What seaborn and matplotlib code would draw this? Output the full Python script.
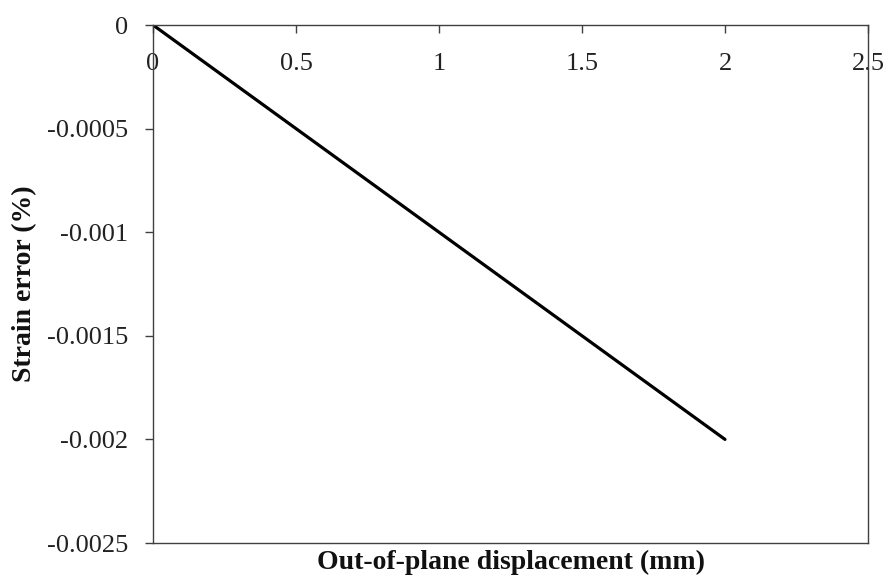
import matplotlib
matplotlib.use("Agg")
import matplotlib.pyplot as plt
import seaborn as sns
import pandas as pd

displacement_mm = [0.0, 0.5, 1.0, 1.5, 2.0]
strain_error_pct = [0.0, -0.0005, -0.001, -0.0015, -0.002]
x_ticks = [0, 0.5, 1, 1.5, 2, 2.5]
x_tick_labels = ["0", "0.5", "1", "1.5", "2", "2.5"]
y_ticks = [0, -0.0005, -0.001, -0.0015, -0.002, -0.0025]
y_tick_labels = ["0", "-0.0005", "-0.001", "-0.0015", "-0.002", "-0.0025"]

df = pd.DataFrame({"x": displacement_mm, "y": strain_error_pct})

sns.set_theme(style="white")
plt.rcParams["font.family"] = ["Liberation Serif", "DejaVu Serif"]

fig = plt.figure(figsize=(8.88, 5.77), dpi=100)
ax = fig.add_axes([153/888, 1 - 543/577, (868-153)/888, (543-25)/577])

sns.lineplot(data=df, x="x", y="y", ax=ax, color="black", linewidth=2.3)

ax.set_xlim(0, 2.5)
ax.set_ylim(-0.0025, 0)
ax.set_xticks(x_ticks)
ax.set_xticklabels(x_tick_labels)
ax.set_yticks(y_ticks)
ax.set_yticklabels(y_tick_labels)

for s in ax.spines.values():
    s.set_color("#404040")
    s.set_linewidth(1.0)
    s.set_visible(True)

ax.tick_params(axis="x", top=True, bottom=False, labeltop=True, labelbottom=False,
               direction="in", length=6, width=1, color="#404040", pad=-36,
               labelsize=19, labelcolor="#222222")
ax.tick_params(axis="y", left=True, direction="out", length=6, width=1,
               color="#404040", pad=12, labelsize=19, labelcolor="#222222")
ax.xaxis.set_label_position("bottom")

ax.set_xlabel("Out-of-plane displacement (mm)", fontsize=20, fontweight="bold",
              color="#111111", labelpad=5)
ax.set_ylabel("Strain error (%)", fontsize=20, fontweight="bold",
              color="#111111", labelpad=7)

fig.savefig("out.png", dpi=100, facecolor="white")
